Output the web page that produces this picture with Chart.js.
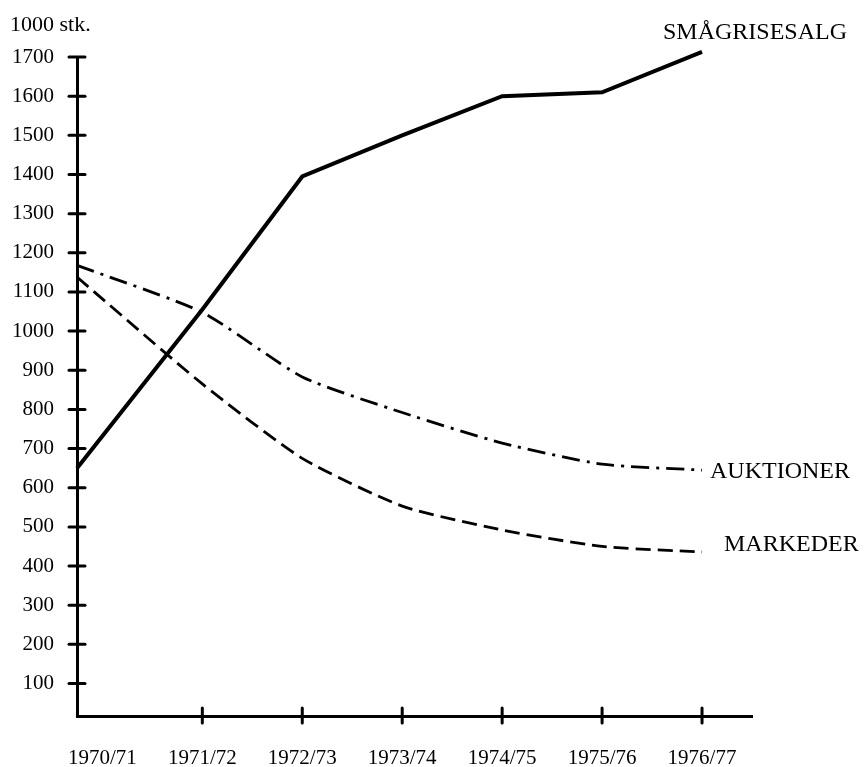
<!DOCTYPE html>
<html>
<head>
<meta charset="utf-8">
<script src="https://cdn.jsdelivr.net/npm/chart.js@4"></script>
<style>
  html, body { margin: 0; padding: 0; background: #fff; }
  #wrap { width: 864px; height: 767px; }
</style>
</head>
<body>
<div id="wrap"><canvas id="chart" width="864" height="767"></canvas></div>
<script>
// seasons on the x axis
const seasons = ["1970/71", "1971/72", "1972/73", "1973/74", "1974/75", "1975/76", "1976/77"];
// 1000 stk.
const smagrisesalg = [650, 1055, 1395, 1500, 1600, 1610, 1713];
const auktioner = [1168, 1048, 883, 792, 714, 660, 645];
const markeder = [1138, 865, 675, 553, 492, 450, 436];
const yTicks = [100, 200, 300, 400, 500, 600, 700, 800, 900, 1000, 1100, 1200, 1300, 1400, 1500, 1600, 1700];

const FONT = "'Liberation Serif', 'DejaVu Serif', serif";
const X_MIN = -0.254;
const X_MAX = 6.5;

// first season is drawn on the y axis itself, like in the original
const toPoints = (arr) => arr.map((v, i) => ({ x: i === 0 ? X_MIN : i, y: v }));

const tickMarks = {
  id: "tickMarks",
  afterDraw(chart) {
    const ctx = chart.ctx;
    const xs = chart.scales.x;
    const ys = chart.scales.y;
    ctx.save();
    ctx.strokeStyle = "#000";
    ctx.lineWidth = 3;
    ctx.lineCap = "round";
    yTicks.forEach(v => {
      const y = ys.getPixelForValue(v);
      ctx.beginPath();
      ctx.moveTo(xs.left - 8, y);
      ctx.lineTo(xs.left + 8, y);
      ctx.stroke();
    });
    for (let i = 1; i < seasons.length; i++) {
      const x = xs.getPixelForValue(i);
      ctx.beginPath();
      ctx.moveTo(x, ys.bottom - 8);
      ctx.lineTo(x, ys.bottom + 7);
      ctx.stroke();
    }

    ctx.fillStyle = "#000";
    ctx.textBaseline = "middle";
    ctx.textAlign = "left";
    ctx.font = "22px " + FONT;
    ctx.fillText("1000 stk.", 10, 25);
    ctx.font = "24px " + FONT;
    ctx.fillText("SMÅGRISESALG", 663, 33);
    ctx.fillText("AUKTIONER", 710, 472);
    ctx.fillText("MARKEDER", 724, 545);
    ctx.restore();
  }
};

new Chart(document.getElementById("chart"), {
  type: "line",
  data: {
    datasets: [
      {
        label: "SMÅGRISESALG",
        data: toPoints(smagrisesalg),
        borderColor: "#000",
        borderWidth: 4,
        pointRadius: 0,
        tension: 0,
        clip: false
      },
      {
        label: "AUKTIONER",
        data: toPoints(auktioner),
        borderColor: "#000",
        borderWidth: 2.8,
        borderDash: [18, 7, 3, 7],
        pointRadius: 0,
        tension: 0.2,
        clip: false
      },
      {
        label: "MARKEDER",
        data: toPoints(markeder),
        borderColor: "#000",
        borderWidth: 2.8,
        borderDash: [15, 7],
        pointRadius: 0,
        tension: 0.2,
        clip: false
      }
    ]
  },
  options: {
    responsive: false,
    animation: false,
    layout: { padding: { top: 57, right: 112, left: 0, bottom: 0 } },
    plugins: {
      legend: { display: false },
      tooltip: { enabled: false }
    },
    scales: {
      x: {
        type: "linear",
        min: X_MIN,
        max: X_MAX,
        afterFit: s => { s.height = 51; },
        afterBuildTicks: s => { s.ticks = seasons.map((_, i) => ({ value: i })); },
        grid: { display: false, drawTicks: false },
        border: { display: true, color: "#000", width: 3 },
        ticks: {
          color: "#000",
          font: { family: FONT, size: 21 },
          padding: 30,
          maxRotation: 0,
          autoSkip: false,
          callback: v => seasons[v]
        }
      },
      y: {
        type: "linear",
        min: 17,
        max: 1700,
        afterFit: s => { s.width = 77; },
        afterBuildTicks: s => { s.ticks = yTicks.map(v => ({ value: v })); },
        grid: { display: false, drawTicks: false },
        border: { display: true, color: "#000", width: 3 },
        ticks: {
          color: "#000",
          font: { family: FONT, size: 21 },
          padding: 23,
          callback: v => String(v)
        }
      }
    }
  },
  plugins: [tickMarks]
});
</script>
</body>
</html>
